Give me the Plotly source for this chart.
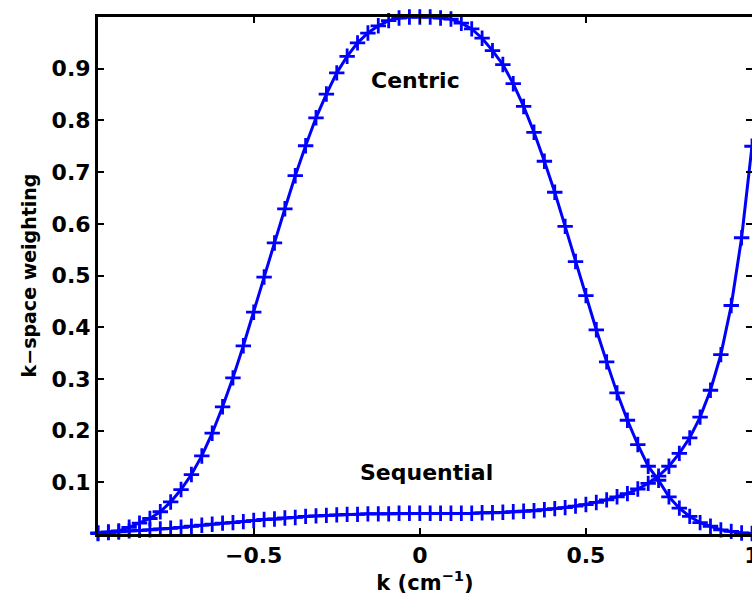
import plotly.graph_objects as go

# k-space positions: -31/32 ... 32/32
k_index = list(range(-31, 33))
k_values = [i / 32 for i in k_index]

centric = [
    0.002, 0.004, 0.006, 0.013, 0.021, 0.030, 0.043, 0.062, 0.086, 0.115,
    0.151, 0.195, 0.246, 0.302, 0.364, 0.429, 0.497, 0.563, 0.629, 0.693,
    0.751, 0.805, 0.851, 0.892, 0.924, 0.950, 0.969, 0.983, 0.993, 0.998,
    1.000, 1.000, 1.000, 0.998, 0.996, 0.988, 0.977, 0.959, 0.935, 0.908,
    0.871, 0.827, 0.777, 0.721, 0.661, 0.595, 0.527, 0.461, 0.395, 0.333,
    0.273, 0.220, 0.173, 0.131, 0.104, 0.072, 0.050, 0.034, 0.022, 0.015,
    0.008, 0.005, 0.002, 0.001,
]

sequential = [
    0.001, 0.003, 0.004, 0.006, 0.007, 0.008, 0.010, 0.011, 0.013, 0.015,
    0.017, 0.019, 0.021, 0.022, 0.024, 0.026, 0.028, 0.029, 0.031, 0.032,
    0.034, 0.035, 0.036, 0.037, 0.038, 0.038, 0.039, 0.039, 0.039, 0.040,
    0.040, 0.040, 0.040, 0.040, 0.040, 0.040, 0.040, 0.041, 0.041, 0.042,
    0.043, 0.044, 0.045, 0.047, 0.049, 0.051, 0.054, 0.057, 0.061, 0.066,
    0.072, 0.078, 0.087, 0.098, 0.112, 0.131, 0.156, 0.186, 0.226, 0.278,
    0.347, 0.442, 0.573, 0.750,
]

x_tickvals = [-0.5, 0, 0.5, 1]
y_tickvals = [0.1, 0.2, 0.3, 0.4, 0.5, 0.6, 0.7, 0.8, 0.9]
y_ticktext = ["0.1", "0.2", "0.3", "0.4", "0.5", "0.6", "0.7", "0.8", "0.9"]

BLUE = "#0000ff"
FONT = "DejaVu Sans"

fig = go.Figure()
fig.add_trace(go.Scatter(
    x=k_values, y=centric, mode="lines+markers", name="Centric",
    line=dict(color=BLUE, width=3),
    marker=dict(symbol="cross-thin", size=11, line=dict(color=BLUE, width=2.8)),
    cliponaxis=False, showlegend=False,
))
fig.add_trace(go.Scatter(
    x=k_values, y=sequential, mode="lines+markers", name="Sequential",
    yaxis="y2",
    line=dict(color=BLUE, width=3),
    marker=dict(symbol="cross-thin", size=11, line=dict(color=BLUE, width=2.8)),
    cliponaxis=False, showlegend=False,
))

fig.update_layout(
    width=752, height=595,
    margin=dict(l=98, r=0, t=17, b=61),
    paper_bgcolor="white", plot_bgcolor="white",
    font=dict(family=FONT, size=22, color="black"),
    xaxis=dict(
        range=[-0.96875, 1], tickvals=x_tickvals, automargin=False,
        ticks="inside", ticklen=6, tickwidth=2, tickcolor="black",
        showline=True, linecolor="black", linewidth=3, mirror="ticks",
        showgrid=False, zeroline=False, ticklabeloverflow="allow",
        tickfont=dict(family=FONT, size=22, color="black", weight="bold"),
        title=dict(text="k (cm<sup>−1</sup>)", standoff=2,
                   font=dict(family=FONT, size=21, color="black", weight="bold")),
    ),
    yaxis=dict(
        range=[0, 1], tickvals=y_tickvals, ticktext=y_ticktext, automargin=False,
        ticks="inside", ticklen=6, tickwidth=2, tickcolor="black",
        showline=True, linecolor="black", linewidth=3, mirror=False,
        showgrid=False, zeroline=False,
        tickfont=dict(family=FONT, size=22, color="black", weight="bold"),
        title=dict(text="k−space weighting", standoff=10,
                   font=dict(family=FONT, size=19, color="black", weight="bold")),
    ),
    yaxis2=dict(
        range=[0, 1], tickvals=y_tickvals, overlaying="y", side="right",
        automargin=False,
        ticks="inside", ticklen=6, tickwidth=2, tickcolor="black",
        showticklabels=False, showline=False, showgrid=False, zeroline=False,
    ),
    annotations=[
        dict(x=-0.014, y=0.878, xref="x", yref="y", text="Centric", showarrow=False,
             font=dict(family=FONT, size=22, color="black", weight="bold")),
        dict(x=0.019, y=0.118, xref="x", yref="y", text="Sequential", showarrow=False,
             font=dict(family=FONT, size=22, color="black", weight="bold")),
    ],
)

fig.write_html(
    "out.html",
    config={"displayModeBar": False},
    post_script="document.body.style.margin='0';document.body.style.overflow='hidden';",
)
